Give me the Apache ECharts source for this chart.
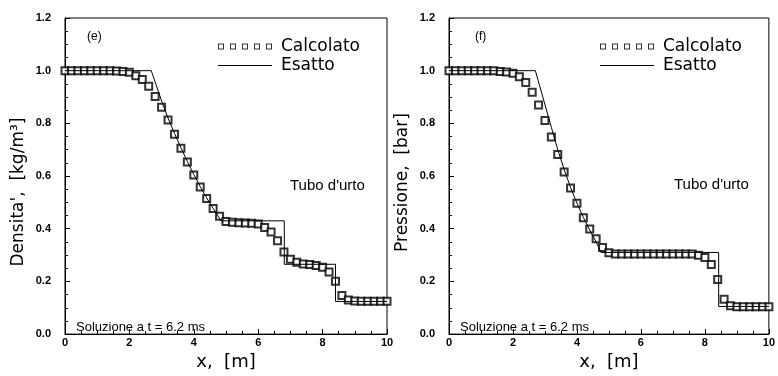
<!DOCTYPE html>
<html><head><meta charset="utf-8">
<script src="https://cdn.jsdelivr.net/npm/echarts@6/dist/echarts.min.js"></script>
<style>html,body{margin:0;padding:0;background:#fff}#c{width:778px;height:376px}</style>
</head><body><div id="c"></div>
<script>
const xCalc = [0,0.2,0.4,0.6,0.8,1.0,1.2,1.4,1.6,1.8,2.0,2.2,2.4,2.6,2.8,3.0,3.2,3.4,3.6,3.8,4.0,4.2,4.4,4.6,4.8,5.0,5.2,5.4,5.6,5.8,6.0,6.2,6.4,6.6,6.8,7.0,7.2,7.4,7.6,7.8,8.0,8.2,8.4,8.6,8.8,9.0,9.2,9.4,9.6,9.8,10.0];
const densCalc = [1,1,1,1,1,1,1,1,0.999,0.997,0.994,0.981,0.967,0.941,0.902,0.861,0.813,0.759,0.706,0.653,0.604,0.558,0.515,0.477,0.447,0.427,0.425,0.423,0.422,0.421,0.418,0.405,0.388,0.354,0.312,0.284,0.273,0.266,0.264,0.260,0.254,0.236,0.201,0.147,0.129,0.126,0.125,0.125,0.125,0.125,0.125];
const presCalc = [1,1,1,1,1,1,1,1,0.997,0.995,0.99,0.977,0.955,0.918,0.870,0.811,0.748,0.682,0.615,0.555,0.497,0.442,0.399,0.362,0.329,0.309,0.304,0.304,0.304,0.304,0.304,0.304,0.304,0.304,0.304,0.304,0.304,0.304,0.304,0.299,0.291,0.264,0.207,0.132,0.108,0.104,0.104,0.104,0.104,0.104,0.104];
const densExactX = [0,2.68,3.0,3.2,3.4,3.6,3.8,4.0,4.2,4.4,4.6,4.85,6.81,6.81,8.4,8.4,10];
const densExactY = [1,1,0.885,0.82,0.762,0.708,0.655,0.606,0.56,0.517,0.477,0.43,0.43,0.265,0.265,0.124,0.124];
const presExactX = [0,2.7,3.2,3.4,3.6,3.8,4.0,4.2,4.4,4.6,4.75,8.43,8.43,10];
const presExactY = [1,1,0.785,0.70,0.625,0.557,0.497,0.443,0.395,0.35,0.31,0.31,0.105,0.105];
const xTicks = {min:0, max:10, interval:2};
const yTicks = {min:0, max:1.2, interval:0.2};
const seriesNames = ['Calcolato','Esatto'];
const yTitles = ["Densita',  [kg/m³]", 'Pressione,  [bar]'];
const xTitle = 'x,  [m]';
const panelTags = ['(e)','(f)'];
const noteText = "Tubo d'urto";
const solText = 'Soluzione a t = 6.2 ms';

const zip = (a,b)=>a.map((v,i)=>[v,b[i]]);
const font = 'Liberation Sans, Arial, sans-serif';
const bigFont = 'DejaVu Sans, sans-serif';
const squaresIcon = 'path://' + [0,12,24,36,48].map(o=>`M${o},0H${o+6}V6H${o}Z M${o+1},1V5H${o+5}V1Z`).join(' ');
const lineIcon = 'path://M0,2.5H54V3.5H0Z';

function baseAxis(gi){
  return {gridIndex:gi, type:'value',
    axisLine:{show:true, lineStyle:{color:'#000'}},
    axisTick:{show:true, inside:true, length:5, lineStyle:{color:'#000', width:1}},
    minorTick:{show:true, splitNumber:4, length:3, lineStyle:{color:'#000', width:1}},
    splitLine:{show:false}};
}
function xAxis(gi){
  return Object.assign(baseAxis(gi), {min:xTicks.min, max:xTicks.max, interval:xTicks.interval,
    name:xTitle, nameLocation:'middle', nameGap:18,
    nameTextStyle:{fontFamily:bigFont, fontSize:18, color:'#000'},
    axisLabel:{fontFamily:font, fontWeight:'bold', fontSize:11, color:'#000', margin:3}});
}
function yAxis(gi, title, pad){
  return Object.assign(baseAxis(gi), {min:yTicks.min, max:yTicks.max, interval:yTicks.interval,
    name:title, nameLocation:'middle', nameGap:38, nameRotate:90,
    nameTextStyle:{fontFamily:bigFont, fontSize:17, color:'#000', padding:[0,pad,0,0]},
    axisLabel:{fontFamily:font, fontWeight:'bold', fontSize:11, color:'#000', margin:14, formatter:v=>v.toFixed(1)}});
}
function legend(left){
  return {left:left, top:32, orient:'vertical', itemGap:0, itemWidth:54, itemHeight:6,
    itemStyle:{borderWidth:0},
    textStyle:{fontFamily:bigFont, fontSize:17, color:'#000', lineHeight:19, padding:[0,0,0,4]},
    data:[{name:seriesNames[0], icon:squaresIcon},{name:seriesNames[1], icon:lineIcon}]};
}
const grids = [{left:65, top:18, width:322, bottom:40}, {left:449, top:18, width:320, bottom:40}];
const option = {
  animation:false,
  grid: grids.map(g=>Object.assign({show:true, borderColor:'#000', borderWidth:1}, g)),
  xAxis:[xAxis(0), xAxis(1)],
  yAxis:[yAxis(0, yTitles[0], 32), yAxis(1, yTitles[1], 13)],
  legend:[legend(213), legend(595)],
  title:[
    {text:panelTags[0], left:82, top:26, textStyle:{fontFamily:font, fontSize:12, fontWeight:'normal', color:'#000'}},
    {text:panelTags[1], left:470, top:26, textStyle:{fontFamily:font, fontSize:12, fontWeight:'normal', color:'#000'}},
    {text:noteText, left:285, top:173, textStyle:{fontFamily:font, fontSize:15, fontWeight:'normal', color:'#000'}},
    {text:noteText, left:669, top:172, textStyle:{fontFamily:font, fontSize:15, fontWeight:'normal', color:'#000'}},
    {text:solText, left:71, top:316, textStyle:{fontFamily:font, fontSize:13, fontWeight:'normal', color:'#000'}},
    {text:solText, left:455, top:316, textStyle:{fontFamily:font, fontSize:13, fontWeight:'normal', color:'#000'}}
  ],
  series:[
    {name:seriesNames[1], type:'line', xAxisIndex:0, yAxisIndex:0, data:zip(densExactX,densExactY), symbol:'none', lineStyle:{color:'#000', width:1}, itemStyle:{color:'#000'}},
    {name:seriesNames[0], type:'scatter', xAxisIndex:0, yAxisIndex:0, data:zip(xCalc,densCalc), symbol:'emptyRect', symbolSize:7, itemStyle:{color:'#000', borderWidth:0.7}},
    {name:seriesNames[1], type:'line', xAxisIndex:1, yAxisIndex:1, data:zip(presExactX,presExactY), symbol:'none', lineStyle:{color:'#000', width:1}, itemStyle:{color:'#000'}},
    {name:seriesNames[0], type:'scatter', xAxisIndex:1, yAxisIndex:1, data:zip(xCalc,presCalc), symbol:'emptyRect', symbolSize:7, itemStyle:{color:'#000', borderWidth:0.7}}
  ]
};
echarts.init(document.getElementById('c')).setOption(option);
</script></body></html>
